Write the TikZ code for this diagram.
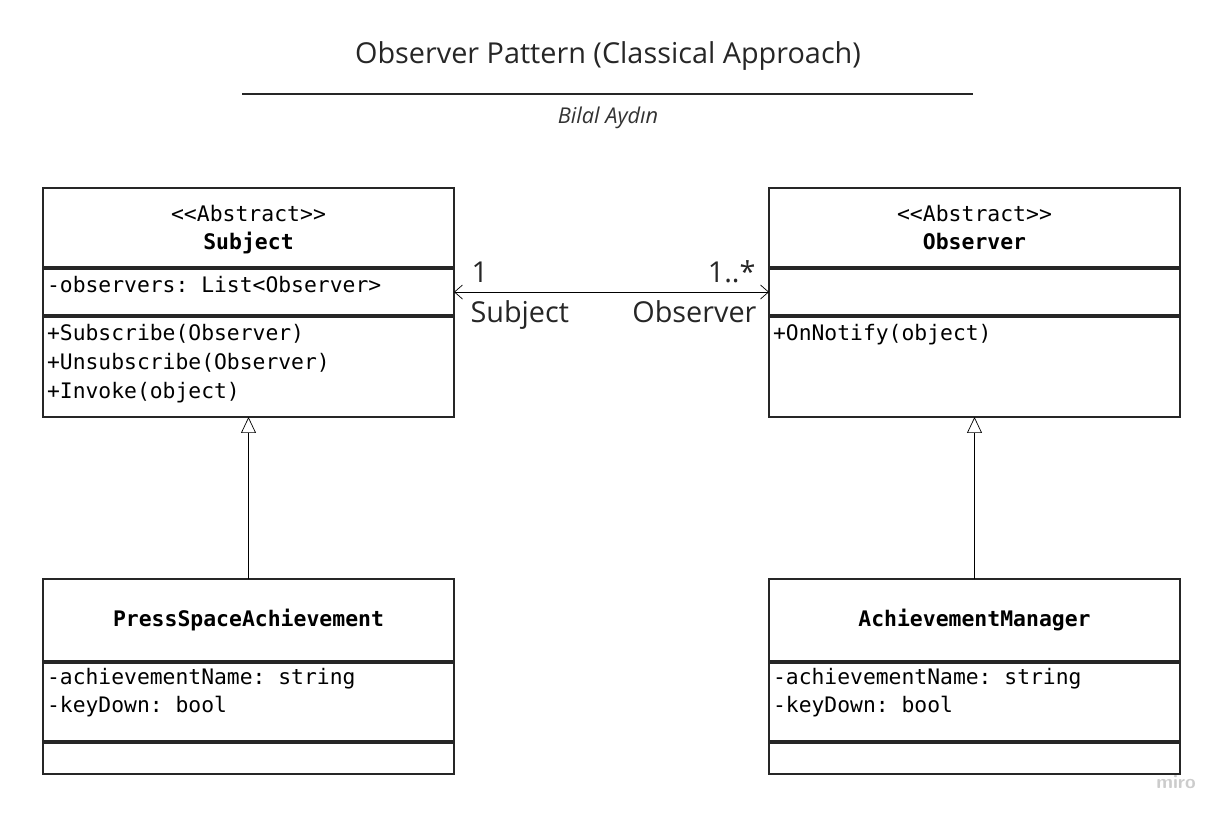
\documentclass[tikz,border=0pt]{standalone}
\usepackage{fontspec}
\setmainfont{Open Sans}
\setmonofont{DejaVu Sans Mono}
\usetikzlibrary{positioning,arrows.meta}

\begin{document}
\begin{tikzpicture}[x=0.02cm, y=-0.02cm, semithick,
    box/.style={rectangle, draw=black!85, line width=1.1pt, minimum width=8.22cm,
      inner sep=0pt, outer sep=0pt, anchor=north},
    head/.style={box, align=center, font=\ttfamily\fontsize{12.2}{16}\selectfont},
    members/.style={anchor=north west, align=left, inner xsep=2pt, inner ysep=4pt,
      font=\ttfamily\fontsize{12.15}{16.4}\selectfont},
    role/.style={font=\fontsize{16.4}{19}\selectfont, text=black!85, inner sep=0pt},
    assoc/.style={{Straight Barb[length=1.6mm,width=2.8mm]}-{Straight Barb[length=1.6mm,width=2.8mm]}, thin},
    inherit/.style={-{Triangle[length=3.2mm,width=3mm,fill=white]}, thin}
    ]
\useasboundingbox (0,0) rectangle (1224,816);

% title
\node[font=\fontsize{16.4}{19}\selectfont, text=black!85, anchor=base] (title) at (608,63)
  {Observer Pattern (Classical Approach)};
\coordinate (ruleL) at (242,94);
\coordinate (ruleR) at (973,94);
\draw[black!85] (ruleL) -- (ruleR);
\node[font=\fontsize{12.4}{14}\selectfont\itshape, text=black!80, anchor=base] (author) at (608,123)
  {Bilal Aydın};

% Subject
\node[head, minimum height=1.58cm] (subjT) at (248.5,188)
  {\rule{0pt}{11.6pt}<<Abstract>>\\\textbf{Subject}\rule[-3pt]{0pt}{3pt}};
\node[box, minimum height=0.92cm] (subjA) at (248.5,269) {};
\node[box, minimum height=2.0cm] (subjM) at (248.5,317) {};
\node[members] (subjAtxt) at (subjA.north west) {-observers: List<Observer>};
\node[members] (subjMtxt) at (subjM.north west)
  {+Subscribe(Observer)\\+Unsubscribe(Observer)\\+Invoke(object)};

% Observer
\node[head, minimum height=1.58cm] (obsT) at (974.5,188)
  {\rule{0pt}{11.6pt}<<Abstract>>\\\textbf{Observer}\rule[-3pt]{0pt}{3pt}};
\node[box, minimum height=0.92cm] (obsA) at (974.5,269) {};
\node[box, minimum height=2.0cm] (obsM) at (974.5,317) {};
\node[members] (obsMtxt) at (obsM.north west) {+OnNotify(object)};

% PressSpaceAchievement
\node[head, minimum height=1.64cm] (psaT) at (248.5,579) {\textbf{PressSpaceAchievement}};
\node[box, minimum height=1.56cm] (psaA) at (248.5,663) {};
\node[box, minimum height=0.62cm] (psaE) at (248.5,743) {};
\node[members, inner ysep=2.5pt] (psaAtxt) at (psaA.north west) {-achievementName: string\\-keyDown: bool};

% AchievementManager
\node[head, minimum height=1.64cm] (amT) at (974.5,579) {\textbf{AchievementManager}};
\node[box, minimum height=1.56cm] (amA) at (974.5,663) {};
\node[box, minimum height=0.62cm] (amE) at (974.5,743) {};
\node[members, inner ysep=2.5pt] (amAtxt) at (amA.north west) {-achievementName: string\\-keyDown: bool};

% association
\draw[assoc] (subjA.east) -- (obsA.west);
\node[role, anchor=base west] (multSubj) at (471,282) {1};
\node[role, anchor=base west] (roleSubj) at (470,322) {Subject};
\node[role, anchor=base east] (multObs) at (756,282) {1..*};
\node[role, anchor=base east] (roleObs) at (757,322) {Observer};

% generalisation
\draw[inherit] (psaT.north) -- (subjM.south);
\draw[inherit] (amT.north) -- (obsM.south);

\node[font=\sffamily\bfseries\fontsize{11}{12}\selectfont, text=black!20] (miro) at (1176,782) {miro};
\end{tikzpicture}
\end{document}
